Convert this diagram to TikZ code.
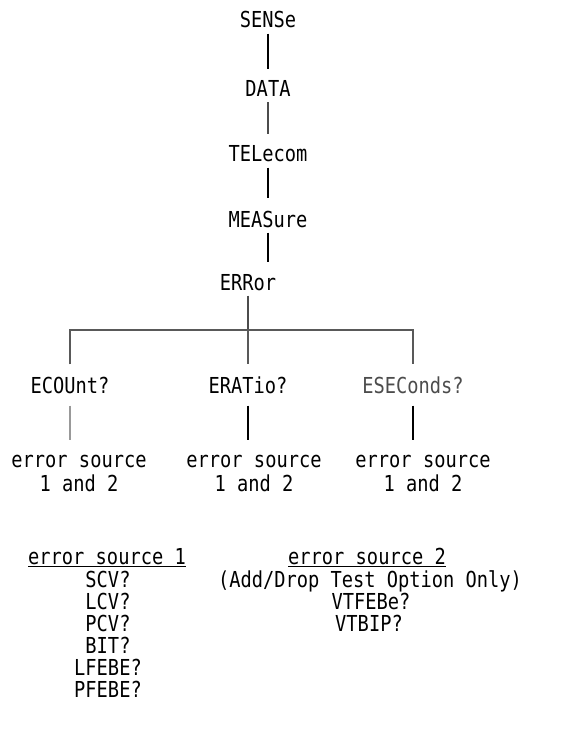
\documentclass[tikz,border=0pt]{standalone}
\usepackage{fontspec}
\newfontfamily\scpifont[FakeStretch=0.85]{DejaVu Sans Mono}
\newcommand\scpi{\scpifont\fontsize{22}{24}\selectfont}

\begin{document}
\begin{tikzpicture}[
  x=1pt,y=-1pt,
  cmd/.style={font=\scpi,inner sep=0pt,anchor=base},
  src/.style={cmd,align=center},
  link/.style={line width=2.6pt,shorten <=5pt,shorten >=12pt},
  bus/.style={line width=2.2pt,draw=black!65}
]
  \useasboundingbox (0,0) rectangle (566,738);

  % command chain
  \node[cmd] (sense) at (268,28) {SENSe};
  \node[cmd] (data) at (268,97) {DATA};
  \node[cmd] (telecom) at (268,162) {TELecom};
  \node[cmd] (measure) at (268,227) {MEASure};
  \node[cmd] (error) at (248,290) {ERRor};
  \draw[link] (sense.south) -- (sense.south |- data.north);
  \draw[link,draw=black!70] (data.south) -- (data.south |- telecom.north);
  \draw[link] (telecom.south) -- (telecom.south |- measure.north);
  \draw[link] (measure.south) -- (measure.south |- error.north);

  % branches
  \node[cmd] (ecount) at (70,393) {ECOUnt?};
  \node[cmd] (eratio) at (248,393) {ERATio?};
  \node[cmd,text=black!70] (eseconds) at (413,393) {ESEConds?};
  \coordinate (fork) at (248,330);
  \draw[link,draw=black!70,shorten >=0pt] (error.south) -- (fork);
  \draw[bus,shorten <=12pt,shorten >=12pt] (ecount.north) |- (fork) -| (eseconds.north);
  \draw[bus,shorten >=12pt] (fork) -- (eratio.north);

  \node[src] (srcA) at (79,491) {error source\\1 and 2};
  \node[src] (srcB) at (254,491) {error source\\1 and 2};
  \node[src] (srcC) at (423,491) {error source\\1 and 2};
  \draw[link,draw=black!40,shorten <=12pt,shorten >=14pt] (ecount.south) -- (ecount.south |- srcA.north);
  \draw[link,shorten <=12pt,shorten >=14pt] (eratio.south) -- (eratio.south |- srcB.north);
  \draw[link,shorten <=12pt,shorten >=14pt] (eseconds.south) -- (eseconds.south |- srcC.north);

  % error source lists
  \node[cmd] (headA) at (107,564) {\underline{error source 1}};
  \foreach \item [count=\i] in {SCV?,LCV?,PCV?,BIT?,LFEBE?,PFEBE?}
    \node[cmd] (itemA\i) at (108,{565+22*\i}) {\item};
  \node[cmd] (headB) at (367,564) {\underline{error source 2}};
  \node[cmd] (noteB) at (370,587) {(Add/Drop Test Option Only)};
  \node[cmd] (itemB1) at (371,609) {VTFEBe?};
  \node[cmd] (itemB2) at (369,631) {VTBIP?};
\end{tikzpicture}
\end{document}
